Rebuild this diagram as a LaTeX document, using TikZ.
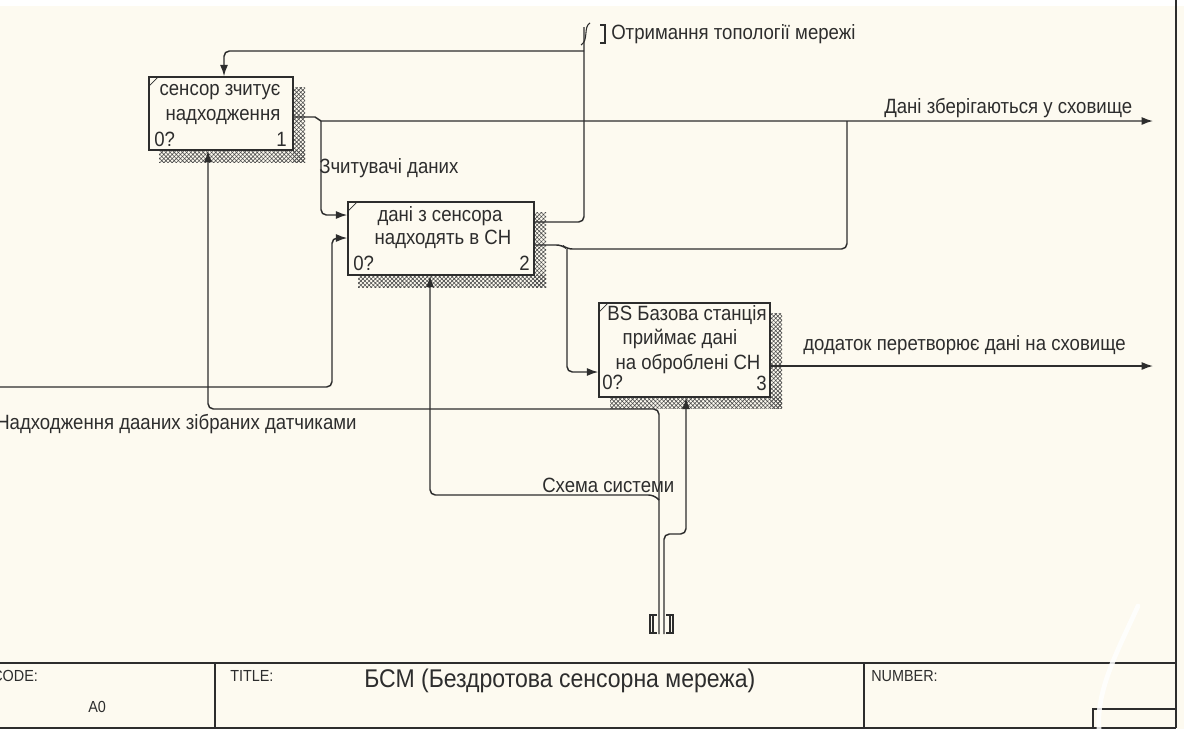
\documentclass[tikz,border=0pt]{standalone}
\usepackage{fontspec}
\setmainfont{Liberation Sans}
\newfontfamily\lblfont{Liberation Sans}[FakeStretch=0.9]
\usetikzlibrary{arrows.meta,patterns.meta}

\definecolor{paper}{RGB}{253,250,240}
\definecolor{ink}{RGB}{45,45,45}

\begin{document}
\begin{tikzpicture}[x=0.75pt,y=-0.75pt,
  flow/.style={draw=ink, line width=1.1pt, rounded corners=4pt},
  arr/.style={flow, -{Latex[length=8.5pt,width=6pt]}},
  fnbox/.style={draw=ink, line width=1.1pt, fill=paper, inner sep=0pt, minimum width=#1},
  shade/.style={pattern={Hatch[angle=45,distance=2.2pt,line width=0.45pt]}, pattern color=ink!85},
  txt/.style={font=\lblfont\fontsize{15.5pt}{17pt}\selectfont, text=ink, inner sep=0pt},
  lbl/.style={txt, anchor=west},
  frame/.style={draw=ink, line width=1.1pt},
  tiny/.style={font=\lblfont\fontsize{12pt}{14pt}\selectfont, text=ink, inner sep=0pt, anchor=west},
]
% sheet
\fill[paper] (0,0) rectangle (1184,729);
\fill[white] (0,0) rectangle (1184,6);
\useasboundingbox (0,0) rectangle (1184,729);

% activity boxes with their hatched shadows
\fill[shade] (293,87) rectangle (305,162);
\fill[shade] (159,150) rectangle (305,162);
\fill[shade] (534,212) rectangle (546,287);
\fill[shade] (358,275) rectangle (546,287);
\fill[shade] (770,313) rectangle (782,408);
\fill[shade] (610,397) rectangle (782,408);

\node[fnbox=108pt, minimum height=54.75pt] (b1) at (221,113.5) {};
\node[fnbox=139.5pt, minimum height=54.75pt] (b2) at (441,238.5) {};
\node[fnbox=128.25pt, minimum height=70.5pt] (b3) at (684.5,350) {};
\foreach \b in {b1,b2,b3}
  \draw[ink, line width=0.5pt] ([xshift=1pt,yshift=-7pt]\b.north west) -- ([xshift=7pt,yshift=-1pt]\b.north west);

\node[txt] (b1t1) at (220,92) {сенсор зчитує};
\node[txt] (b1t2) at (223,117) {надходження};
\node[txt, anchor=west] (b1n) at (154,139) {0?};
\node[txt, anchor=east] (b1k) at (287,139) {1};

\node[txt] (b2t1) at (440,216) {дані з сенсора};
\node[txt] (b2t2) at (443,239) {надходять в СН};
\node[txt, anchor=west] (b2n) at (353,263) {0?};
\node[txt, anchor=east] (b2k) at (530,263) {2};

\node[txt] (b3t1) at (687,315) {BS Базова станція};
\node[txt] (b3t2) at (680,339) {приймає дані};
\node[txt] (b3t3) at (688,364) {на оброблені СН};
\node[txt, anchor=west] (b3n) at (602,382) {0?};
\node[txt, anchor=east] (b3k) at (767,383) {3};

% junction and bend points
\coordinate (j1) at (321,121);
\coordinate (j2) at (567,249);
\coordinate (topj) at (584,51);
\coordinate (tun) at (584,27);
\coordinate (inL) at (0,387);
\coordinate (botA) at (659,634);
\coordinate (botB) at (664,634);
\coordinate (jS) at (659,500);

% feedback from box 2 to the control of box 1, with a tunnelled branch
\draw[flow] (b2.east |- 0,222) -- (584,222) -- (topj) -- (tun);
\draw[arr] (topj) -- (224,51) -- (b1.north -| 224,0);
\draw[ink, line width=0.8pt] (590,23) .. controls (583,27) and (589,40) .. (581,45);
\draw[ink, line width=0.8pt] (600,25) -- (605,25) -- (605,43) -- (600,43);
\node[lbl] (lTop) at (611,34) {Отримання топології мережі};

% output of box 1
\draw[arr, rounded corners=0pt] (b1.east |- 0,117) -- (315,117) -- (j1) -- (1153,121);
\draw[arr] (j1) -- (321,215) -- (b2.west |- 0,215);
\node[lbl] (lRead) at (319,168) {Зчитувачі даних};
\node[lbl] (lStore) at (884,108) {Дані зберігаються у сховище};

% external input into box 2
\draw[arr] (inL) -- (332,387) -- (332,238) -- (b2.west |- 0,238);
\node[lbl] (lIn) at (-4,424) {Надходження дааних зібраних датчиками};

% second output of box 2
\draw[flow] (b2.east |- 0,245) -- (562,245) -- (j2) -- (847,249) -- (847,121);
\draw[arr] (j2) -- (567,372) -- (b3.west |- 0,372);

% output of box 3
\draw[arr] (b3.east |- 0,366) -- (1153,366);
\node[lbl] (lApp) at (803,345) {додаток перетворює дані на сховище};

% mechanisms from the tunnelled bottom arrow
\draw[arr] (botA) -- (659,409) -- (208,409) -- (b1.south -| 208,0);
\draw[arr] (jS) -- (654,495) -- (430,495) -- (b2.south -| 430,0);
\draw[arr] (botB) -- (664,534) -- (686,534) -- (b3.south -| 686,0);
\node[lbl] (lSch) at (542,485) {Схема системи};
\draw[ink, line width=0.8pt] (657,615) -- (650,615) -- (650,633) -- (657,633);
\draw[ink, line width=0.8pt] (666,615) -- (673,615) -- (673,633) -- (666,633);
\draw[ink, line width=0.8pt] (653,615) -- (653,633);
\draw[ink, line width=0.8pt] (670,615) -- (670,633);

% title block and sheet frame
\draw[frame] (1176,0) -- (1176,728);
\draw[frame] (0,663) -- (1176,663);
\draw[frame] (0,728) -- (1176,728);
\draw[frame] (215,663) -- (215,728);
\draw[frame] (864,663) -- (864,728);
\draw[frame] (1093,728) -- (1093,709) -- (1176,709);
\node[tiny] (tCode) at (-8,676) {CODE:};
\node[tiny] (tA0) at (88,707) {A0};
\node[tiny] (tTitle) at (230,676) {TITLE:};
\node[tiny] (tNum) at (871,676) {NUMBER:};
\node[txt, anchor=west, font=\lblfont\fontsize{19.2pt}{21pt}\selectfont] (tName) at (364,681) {БСМ (Бездротова сенсорна мережа)};
% light glare across the corner
\draw[white, line width=3.5pt, opacity=0.85, line cap=round] (1138,606) .. controls (1118,650) and (1096,690) .. (1099,729);
\end{tikzpicture}
\end{document}
